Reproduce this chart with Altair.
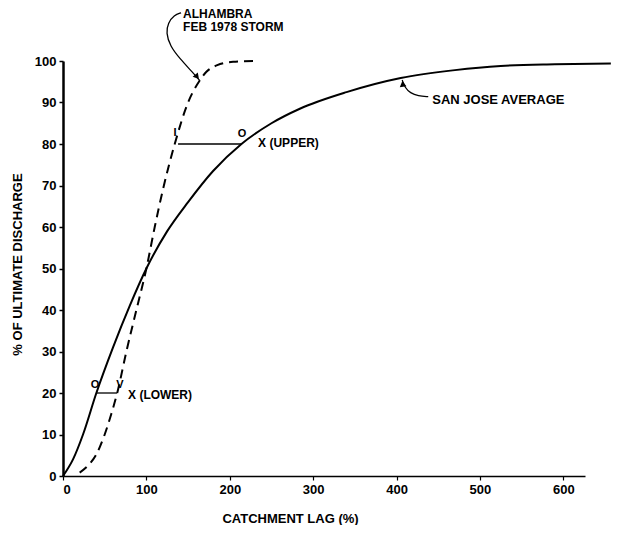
import altair as alt
import pandas as pd

# San Jose average curve (solid)
sj_x = [0, 12, 24, 40, 60, 80, 100, 125, 150, 180, 214, 250, 284, 340, 405, 470, 525, 590, 657]
sj_y = [0, 4, 10, 20, 31, 41, 50, 59, 66, 73.5, 80, 85, 88.5, 92.5, 95.9, 97.8, 98.8, 99.2, 99.4]

# Alhambra Feb 1978 storm curve (dashed)
al_x = [20, 30, 40, 50, 58, 65, 76, 88, 100, 110, 121, 134, 150, 164, 172, 185, 204, 230]
al_y = [0.8, 2.5, 5.2, 10, 15, 20, 30, 40, 50, 60, 70, 80, 90, 95.3, 97.4, 99, 99.8, 100]

# horizontal lag segments
seg_name = ["upper", "lower"]
seg_x1 = [138, 40]
seg_x2 = [214, 65]
seg_y = [80, 20]

# annotation texts
ann_text = ["SAN JOSE AVERAGE", "ALHAMBRA", "FEB 1978 STORM", "X (UPPER)", "X (LOWER)"]
ann_x = [442.8, 144, 144, 234, 78]
ann_y = [90.6, 111.3, 108.2, 80.2, 19.4]
ann_size = [13, 12, 12, 12, 12]

# small markers at the segment ends
mk_text = ["O", "I", "O", "V"]
mk_x = [214.8, 134.4, 38.4, 68.4]
mk_y = [82.5, 82.7, 22, 22]

# leader arrows
arr_id = ["sj"] * 5 + ["al"] * 8
arr_x = [438, 426, 416.4, 410.4, 406.8,
         141.6, 133.2, 126, 123.6, 128.4, 140.4, 154.8, 164.4]
arr_y = [91.4, 91.6, 92.3, 93.5, 95.4,
         111.6, 111.1, 109.2, 106.8, 103.6, 100.5, 97.4, 95.2]
head_x = [407.4, 160.8]
head_y = [94.5, 96.2]
head_angle = [352, 140]

x_ticks = [0, 100, 200, 300, 400, 500, 600]
y_ticks = [0, 10, 20, 30, 40, 50, 60, 70, 80, 90, 100]

FONT = "Liberation Sans"

xs = alt.Scale(domain=[0, 626], nice=False, zero=False)
ys = alt.Scale(domain=[0, 100], nice=False)

sj = pd.DataFrame({"x": sj_x, "y": sj_y})
al = pd.DataFrame({"x": al_x, "y": al_y})
seg = pd.DataFrame({"name": seg_name, "x1": seg_x1, "x2": seg_x2, "y": seg_y})
ann = pd.DataFrame({"t": ann_text, "x": ann_x, "y": ann_y, "s": ann_size})
mk = pd.DataFrame({"t": mk_text, "x": mk_x, "y": mk_y})
arr = pd.DataFrame({"id": arr_id, "x": arr_x, "y": arr_y, "o": list(range(len(arr_x)))})
heads = pd.DataFrame({"x": head_x, "y": head_y, "a": head_angle})

x_axis = alt.Axis(values=x_ticks, title="CATCHMENT LAG (%)", grid=False,
                  titleX=227, titleY=42, titleBaseline="middle", titleAlign="center",
                  titleAnchor="start")
y_axis = alt.Axis(values=y_ticks, title="% OF ULTIMATE DISCHARGE", grid=False,
                  titleX=-46, titleY=203, titleBaseline="middle", titleAlign="center",
                  titleAnchor="start", titleAngle=270)

base_sj = alt.Chart(sj).mark_line(color="black", strokeWidth=2, interpolate="monotone").encode(
    x=alt.X("x:Q", scale=xs, axis=x_axis),
    y=alt.Y("y:Q", scale=ys, axis=y_axis),
)

line_al = alt.Chart(al).mark_line(color="black", strokeWidth=2, strokeDash=[9, 6],
                                  interpolate="monotone").encode(
    x=alt.X("x:Q", scale=xs), y=alt.Y("y:Q", scale=ys))

segs = alt.Chart(seg).mark_rule(color="black", strokeWidth=1.3).encode(
    x=alt.X("x1:Q", scale=xs), x2="x2:Q", y=alt.Y("y:Q", scale=ys))

anns = alt.Chart(ann).mark_text(align="left", baseline="middle", font=FONT,
                                fontWeight="bold", color="black").encode(
    x=alt.X("x:Q", scale=xs), y=alt.Y("y:Q", scale=ys), text="t:N",
    size=alt.Size("s:Q", scale=None, legend=None))

mks = alt.Chart(mk).mark_text(align="center", baseline="middle", font=FONT,
                              fontWeight="bold", fontSize=11, color="black").encode(
    x=alt.X("x:Q", scale=xs), y=alt.Y("y:Q", scale=ys), text="t:N")

arrows = alt.Chart(arr).mark_line(color="black", strokeWidth=1.3, interpolate="basis").encode(
    x=alt.X("x:Q", scale=xs), y=alt.Y("y:Q", scale=ys), detail="id:N", order="o:Q")

arrowheads = alt.Chart(heads).mark_point(shape="triangle-up", filled=True, color="black",
                                         size=45, opacity=1).encode(
    x=alt.X("x:Q", scale=xs), y=alt.Y("y:Q", scale=ys), angle=alt.Angle("a:Q", scale=None))

chart = alt.layer(base_sj, line_al, segs, arrows, arrowheads, anns, mks).properties(
    width=522, height=415,
    autosize=alt.AutoSizeParams(type="none"),
    padding={"left": 55, "top": 53, "right": 29, "bottom": 49},
    background="white",
).configure_view(stroke=None).configure_axis(
    labelFont=FONT, labelFontWeight="bold", labelFontSize=13, labelColor="black",
    titleFont=FONT, titleFontWeight="bold", titleFontSize=13, titleColor="black",
    domainColor="black", tickColor="black", tickSize=4, labelPadding=3,
).configure_axisY(domainWidth=2.5, tickWidth=1.5).configure_axisX(domainWidth=1.5, tickWidth=1.2)

chart.save("out.html", embed_options={"renderer": "svg", "actions": False})
